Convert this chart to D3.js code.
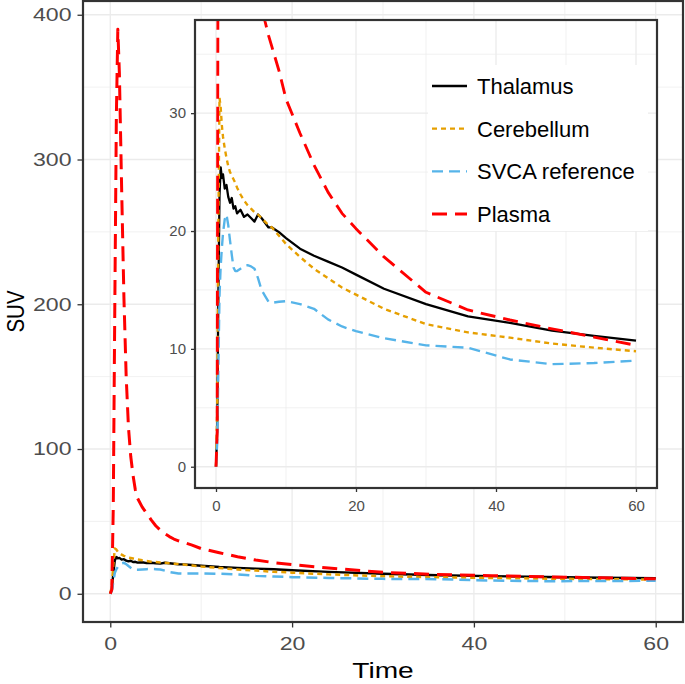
<!DOCTYPE html>
<html><head><meta charset="utf-8">
<script src="https://cdn.jsdelivr.net/npm/d3@7"></script>
<style>
body{margin:0;background:#fff}
svg{display:block}
text{font-family:"Liberation Sans",Arial,Helvetica,sans-serif}
</style></head>
<body><svg id="c" width="685" height="684"></svg>
<script>
// ---- data ----
const time = [0, 0.17, 0.33, 0.5, 0.67, 0.83, 1.0, 1.25, 1.5, 1.75, 2.0, 2.25, 2.5, 2.75, 3.0, 3.5, 4.0, 4.5, 5.0, 5.5, 6.0, 6.5, 7.0, 7.5, 8.0, 9.0, 10, 12, 14, 16, 18, 20, 24, 30, 36, 42, 48, 54, 60];
const thalamus = [0, 3, 14, 23, 25.4, 24.5, 24.8, 23.6, 23.9, 22.9, 22.4, 22.8, 21.9, 22.1, 21.5, 21.8, 21.2, 21.4, 21.1, 20.8, 21.4, 21.1, 20.7, 20.3, 20.3, 19.9, 19.4, 18.5, 17.9, 17.4, 16.9, 16.3, 15.1, 13.8, 12.75, 12.2, 11.55, 11.1, 10.7];
const cerebellum = [0, 5, 20, 31.3, 30.5, 29.0, 28.0, 27.0, 26.2, 25.5, 25.0, 24.7, 24.4, 24.1, 23.7, 23.1, 22.6, 22.2, 21.9, 21.6, 21.4, 21.1, 20.8, 20.5, 20.3, 19.6, 18.9, 17.8, 16.8, 16.0, 15.2, 14.6, 13.4, 12.1, 11.4, 10.95, 10.45, 10.1, 9.8];
const svca = [0, 2, 8, 14.5, 17, 18.5, 19.8, 21, 21.4, 20.5, 19.2, 18, 16.9, 16.6, 16.6, 16.8, 17.0, 17.1, 17.0, 16.8, 16.0, 15.0, 14.5, 14.0, 13.9, 14.0, 14.05, 13.8, 13.4, 12.5, 11.9, 11.5, 10.9, 10.3, 10.1, 9.1, 8.7, 8.8, 9.0];
const plasma = [0, 3, 60, 200, 330, 390, 360, 280, 205, 150, 115, 95, 82, 72, 66, 60, 55.5, 51, 47, 44, 41.5, 39.5, 37.8, 36.6, 35.6, 33.6, 31.2, 28.3, 25.6, 23.3, 21.5, 20.2, 17.8, 14.8, 13.3, 12.45, 11.7, 11.0, 10.3];
const seriesNames = ["Thalamus", "Cerebellum", "SVCA reference", "Plasma"];
const seriesValues = [thalamus, cerebellum, svca, plasma];
const xTicks = [0, 20, 40, 60];
const mainYTicks = [0, 100, 200, 300, 400];
const insetYTicks = [0, 10, 20, 30];
const insetYLimit = [0, 36.1];

// ---- styles ----
const colors = ["#000000", "#E69F00", "#56B4E9", "#FF0000"];
const dashes = [null, "5,4", "11,6", "15,8"];
const widths = [2.4, 2.5, 2.5, 3];

const svg = d3.select("#c");
const expand = (lo, hi) => { const r = hi - lo; return [lo - 0.05 * r, hi + 0.05 * r]; };
const series = seriesNames.map((n, i) => ({name: n, i, pts: time.map((t, j) => [t, seriesValues[i][j]])}));

function panel(g, box, x, y, xt, yt, xMinor, yMinor, opts) {
  const [x0, y0, x1, y1] = box;
  g.append("rect").attr("x", x0).attr("y", y0).attr("width", x1 - x0).attr("height", y1 - y0).attr("fill", "#fff");
  const grid = g.append("g");
  xMinor.forEach(v => grid.append("line").attr("x1", x(v)).attr("x2", x(v)).attr("y1", y0).attr("y2", y1).attr("stroke", "#EBEBEB").attr("stroke-width", 0.7));
  yMinor.forEach(v => grid.append("line").attr("y1", y(v)).attr("y2", y(v)).attr("x1", x0).attr("x2", x1).attr("stroke", "#EBEBEB").attr("stroke-width", 0.7));
  xt.forEach(v => grid.append("line").attr("x1", x(v)).attr("x2", x(v)).attr("y1", y0).attr("y2", y1).attr("stroke", "#EBEBEB").attr("stroke-width", 1.3));
  yt.forEach(v => grid.append("line").attr("y1", y(v)).attr("y2", y(v)).attr("x1", x0).attr("x2", x1).attr("stroke", "#EBEBEB").attr("stroke-width", 1.3));
  const cid = "clip" + opts.id;
  g.append("clipPath").attr("id", cid).append("rect").attr("x", x0).attr("y", y0).attr("width", x1 - x0).attr("height", y1 - y0);
  const line = d3.line().x(d => x(d[0])).y(d => y(d[1]));
  const lg = g.append("g").attr("clip-path", `url(#${cid})`);
  series.forEach(s => {
    lg.append("path").attr("d", line(s.pts)).attr("fill", "none")
      .attr("stroke", colors[s.i]).attr("stroke-width", widths[s.i] * opts.lw)
      .attr("stroke-dasharray", dashes[s.i]).attr("stroke-linejoin", "round");
  });
  g.append("rect").attr("x", x0).attr("y", y0).attr("width", x1 - x0).attr("height", y1 - y0)
    .attr("fill", "none").attr("stroke", "#333333").attr("stroke-width", opts.bw);
  // axes
  const ax = g.append("g").attr("transform", `translate(0,${y1})`)
    .call(d3.axisBottom(x).tickValues(xt).tickSize(opts.ts).tickSizeOuter(0).tickPadding(opts.tpx));
  const ay = g.append("g").attr("transform", `translate(${x0},0)`)
    .call(d3.axisLeft(y).tickValues(yt).tickSize(opts.ts).tickSizeOuter(0).tickPadding(opts.tpy));
  [ax, ay].forEach(a => {
    a.select(".domain").remove();
    a.selectAll(".tick line").attr("stroke", "#333333").attr("stroke-width", 1.3);
    a.selectAll(".tick text").attr("fill", "#4D4D4D").attr("font-size", opts.fs)
      .style("font-family", '"Liberation Sans",Arial,sans-serif');
  });
  if (opts.sx !== 1) {
    ay.selectAll(".tick text").attr("x", -(opts.ts + opts.tpy) / opts.sx).attr("transform", `scale(${opts.sx},1)`);
    ax.selectAll(".tick text").attr("transform", `scale(${opts.sx},1)`);
  }
}

// ---- main plot ----
const mainBox = [83, 1, 683, 622];
const mx = d3.scaleLinear().domain(expand(0, 60)).range([mainBox[0], mainBox[2]]);
const my = d3.scaleLinear().domain(expand(0, d3.max(plasma))).range([mainBox[3], mainBox[1]]);
panel(svg.append("g"), mainBox, mx, my, xTicks, mainYTicks, [10, 30, 50], [50, 150, 250, 350],
  {id: "m", lw: 1, bw: 2.2, ts: 5.5, tpx: 9, tpy: 6, fs: 18.5, sx: 1.25});
const tx = (mainBox[0] + mainBox[2]) / 2;
svg.append("text").attr("transform", `translate(${tx},678) scale(1.25,1)`).attr("text-anchor", "middle")
  .attr("font-size", 22.5).attr("fill", "#000").text("Time");
svg.append("text").attr("transform", `translate(24,${(mainBox[1] + mainBox[3]) / 2}) scale(1.2,1) rotate(-90)`)
  .attr("text-anchor", "middle").attr("font-size", 20.5).attr("fill", "#000").text("SUV");

// ---- inset ----
const inBox = [195, 20, 657, 488];
const ix = d3.scaleLinear().domain(expand(0, 60)).range([inBox[0], inBox[2]]);
const iy = d3.scaleLinear().domain(expand(insetYLimit[0], insetYLimit[1])).range([inBox[3], inBox[1]]);
panel(svg.append("g"), inBox, ix, iy, xTicks, insetYTicks, [10, 30, 50], [5, 15, 25, 35],
  {id: "i", lw: 0.95, bw: 2.2, ts: 4, tpx: 8, tpy: 5, fs: 15, sx: 1});

// ---- legend ----
const leg = svg.append("g");
leg.append("rect").attr("x", 428).attr("y", 65).attr("width", 220).attr("height", 166).attr("fill", "#fff");
const rowY = d3.scalePoint().domain(seriesNames).range([86, 214]);
series.forEach(s => {
  const cy = rowY(s.name);
  leg.append("line").attr("x1", 432).attr("x2", 467).attr("y1", cy).attr("y2", cy)
    .attr("stroke", colors[s.i]).attr("stroke-width", widths[s.i] * 0.95).attr("stroke-dasharray", dashes[s.i]);
  leg.append("text").attr("x", 477).attr("y", cy + 8).attr("font-size", 22).attr("fill", "#000").text(s.name);
});
</script></body></html>
